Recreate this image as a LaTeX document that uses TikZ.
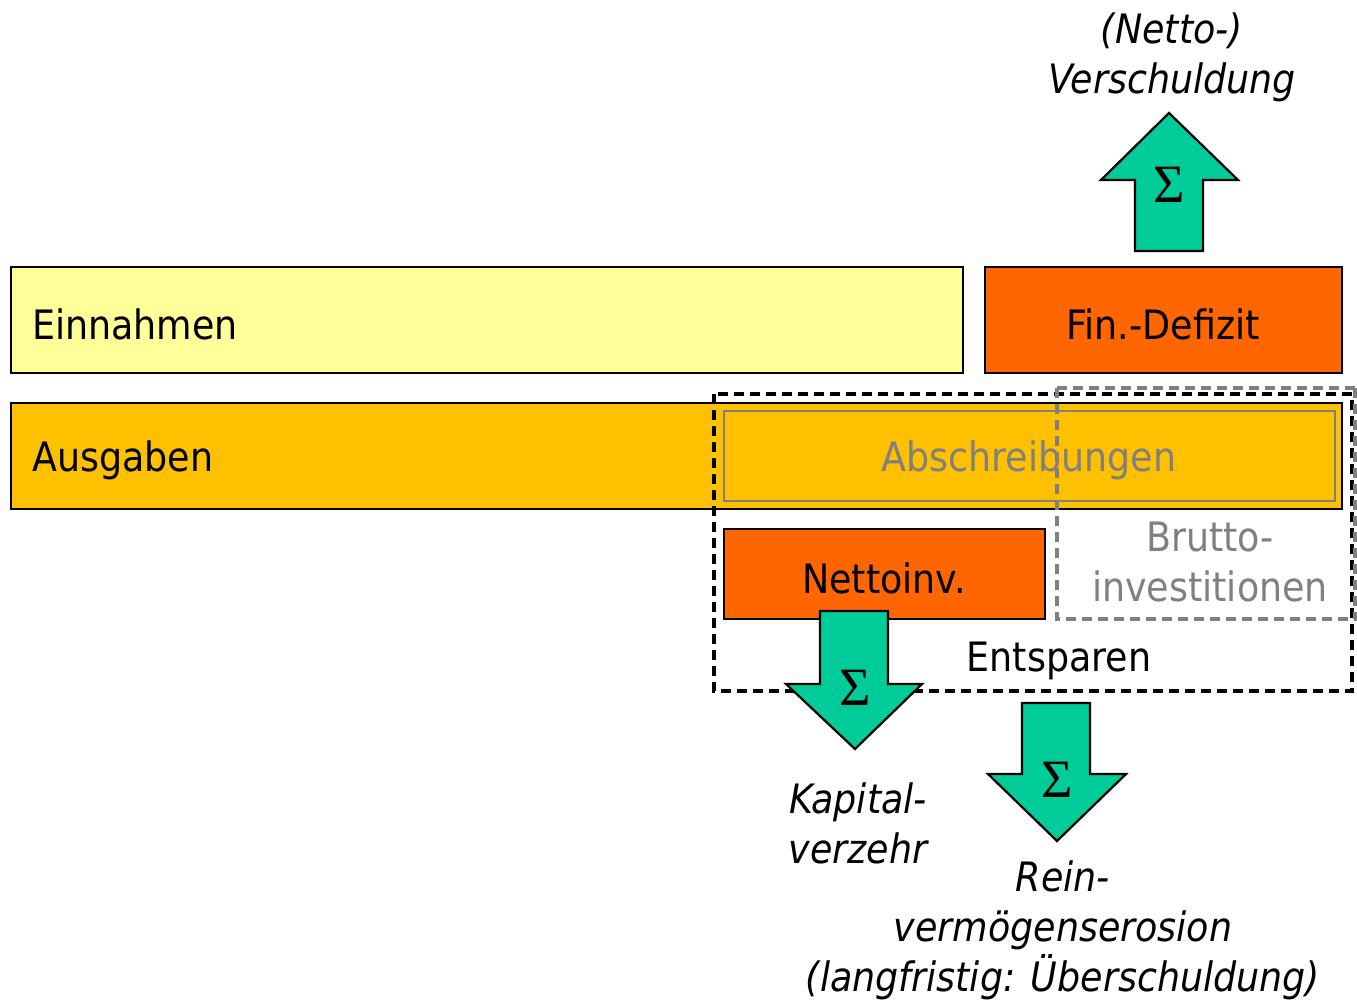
\documentclass[tikz,border=0pt]{standalone}
\usepackage{fontspec}
\setmainfont{DejaVu Sans Condensed}
\newfontfamily\sigmafont{Liberation Serif}
\definecolor{lightyel}{HTML}{FFFF99}
\definecolor{orangeA}{HTML}{FFC000}
\definecolor{redor}{HTML}{FF6600}
\definecolor{sgreen}{HTML}{00CC99}
\definecolor{midgray}{HTML}{808080}
\tikzset{
  bar/.style={draw=black, line width=2.2pt},
  txt/.style={font=\fontsize{40.5}{50}\selectfont, inner sep=0pt, align=center},
  itxt/.style={font=\fontsize{40.5}{50}\selectfont\itshape, inner sep=0pt, align=center},
  gtxt/.style={txt, text=midgray},
  sumarrow/.style={fill=sgreen, draw=black, line width=2.2pt, line join=miter},
  sig/.style={font=\fontsize{54}{54}\selectfont\sigmafont, inner sep=0pt},
  blackdash/.style={draw=black, line width=3.2pt, dash pattern=on 10pt off 6pt},
  graydash/.style={draw=midgray, line width=3.2pt, dash pattern=on 10pt off 6pt},
}
\begin{document}
\begin{tikzpicture}[x=1pt,y=-1pt]
\useasboundingbox (0,0) rectangle (1357,1003);
% bars
\path[bar, fill=lightyel] (11,267) rectangle (963,373);
\node[txt, anchor=west] (ein) at (32,324) {Einnahmen};
\path[bar, fill=redor] (985,267) rectangle (1342,373);
\node[txt] (fin) at (1163,324) {Fin.-Defizit};
\path[bar, fill=orangeA] (11,403) rectangle (1342,509);
\node[txt, anchor=west] (aus) at (32,460) {Ausgaben};
\path[draw=midgray, line width=2.2pt] (724,411) rectangle (1335,501);
\node[gtxt] (absch) at (1029,460) {Abschreibungen};
\path[bar, fill=redor] (724,529) rectangle (1045,619);
\node[txt] (netto) at (884,578) {Nettoinv.};
\node[gtxt] (brutto) at (1210,562) {Brutto-\\investitionen};
\node[txt] (ents) at (1059,661) {Entsparen};
% dashed frames
\path[blackdash] (714,394) rectangle (1352,691);
\path[graydash] (1057,388) -- (1357,388);
\path[graydash] (1057,388) -- (1057,619) -- (1357,619);
\path[graydash] (1355,388) -- (1355,619);
% arrows
\path[sumarrow] (1135,251) -- (1135,180) -- (1101,180) -- (1169,113) -- (1238,180) -- (1203,180) -- (1203,251) -- cycle;
\node[sig] (s1) at (1169,185) {Σ};
\path[sumarrow] (820,611) -- (820,684) -- (786,684) -- (855,749) -- (922,684) -- (888,684) -- (888,611) -- cycle;
\node[sig] (s2) at (855,688) {Σ};
\path[sumarrow] (1022,703) -- (1022,774) -- (988,774) -- (1057,841) -- (1126,774) -- (1090,774) -- (1090,703) -- cycle;
\node[sig] (s3) at (1057,780) {Σ};
% labels
\node[itxt] (verschuld) at (1172,57) {(Netto-)\\Verschuldung};
\node[itxt] (kap) at (858,823) {Kapital-\\verzehr};
\node[itxt] (rein) at (1063,930) {Rein-\\vermögenserosion\\(langfristig: Überschuldung)};
\end{tikzpicture}
\end{document}
